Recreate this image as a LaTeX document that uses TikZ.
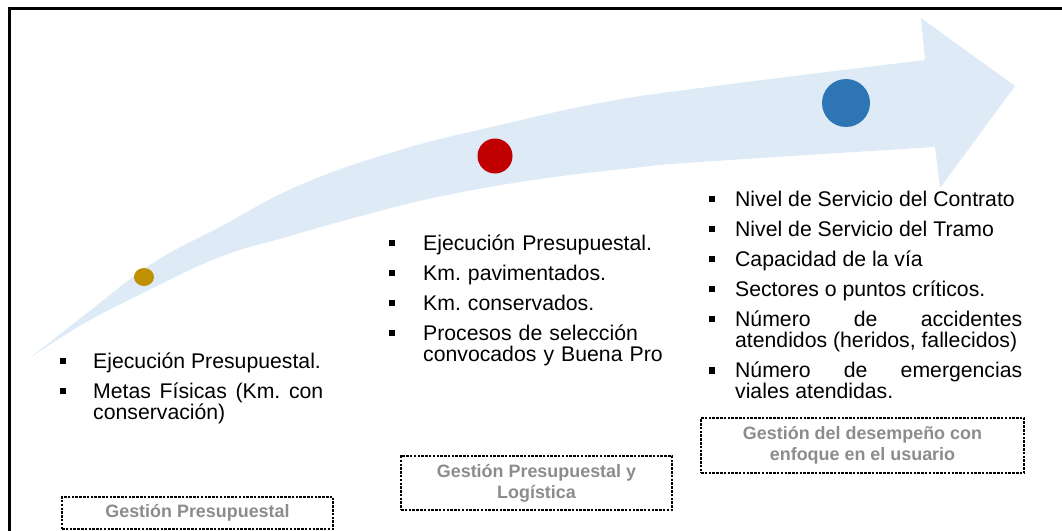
\documentclass[tikz,border=0pt]{standalone}
\usepackage{fontspec}
\setmainfont{Liberation Sans}
\usepackage{enumitem}
\definecolor{flecha}{HTML}{DEEAF6}
\definecolor{rojo}{HTML}{C00000}
\definecolor{azul}{HTML}{2E75B6}
\definecolor{oro}{HTML}{BF9000}
\definecolor{gris}{RGB}{140,140,140}
\tikzset{font=\fontsize{15.1}{14.9}\selectfont}
\tikzset{lista/.style={anchor=north west,inner sep=0pt,align=justify}}
\tikzset{etiqueta/.style={draw,line width=0.8pt,dash pattern=on 1.8pt off 0.9pt,
    text=gris,font=\bfseries\fontsize{12.75}{14.9}\selectfont,align=center,inner sep=0pt}}
\setlist[itemize]{label=\rule[2.9pt]{4.4pt}{4.4pt},labelwidth=4.4pt,
  topsep=0pt,partopsep=0pt,parsep=0pt,itemsep=6.5pt}
\hyphenpenalty=10000
\tolerance=9999
\lineskiplimit=-10pt
\frenchspacing

\begin{document}
\begin{tikzpicture}[x=0.25mm,y=-0.25mm]
  \useasboundingbox (0,0) rectangle (1062,531);
  \clip (0,0) rectangle (1062,531);
  % marco
  \draw[line width=0.75mm] (9,560) -- (9,9) -- (1090,9);
  % flecha curva
  \fill[flecha] plot[smooth,tension=0.7] coordinates {(30,358) (87,313) (153,263)
      (220,227) (300,185) (400,150) (500,125) (600,103) (700,88) (925,60)}
    -- (921,18) -- (1015,86) -- (940,188) -- (935,147)
    -- plot[smooth,tension=0.7] coordinates {(935,147) (700,162) (633,168) (533,180)
      (433,198) (350,219) (290,236) (220,257) (145,292) (83,324) (30,358)} -- cycle;
  \fill[oro] (144,277) ellipse [x radius=10,y radius=9];
  \fill[rojo] (495,156) circle [radius=17.5];
  \fill[azul] (846,103) circle [radius=24];

  \node[lista,text width=65.75mm] (izq) at (60,347) {%
    \begin{itemize}[leftmargin=23.4pt,labelsep=19pt]
      \item Ejecución Presupuestal.
      \item Metas Físicas (Km. con conservación)
    \end{itemize}};
  \node[lista,text width=70mm,align=left] (centro) at (389,229) {%
    \begin{itemize}[leftmargin=24.1pt,labelsep=19.7pt]
      \item Ejecución Presupuestal.
      \item Km. pavimentados.
      \item Km. conservados.
      \item Procesos de selección convocados y Buena Pro
    \end{itemize}};
  \node[lista,text width=78.25mm] (der) at (709,185) {%
    \begin{itemize}[leftmargin=18.4pt,labelsep=14pt]
      \item Nivel de Servicio del Contrato
      \item Nivel de Servicio del Tramo
      \item Capacidad de la vía
      \item Sectores o puntos críticos.
      \item Número de accidentes\linebreak atendidos (heridos, fallecidos)
      \item Número de emergencias\linebreak viales atendidas.
    \end{itemize}};

  \node[etiqueta,minimum width=67.75mm,minimum height=8mm] (g1) at (197.5,513)
    {Gestión Presupuestal};
  \node[etiqueta,minimum width=67.75mm,minimum height=13.5mm] (g2) at (536.5,483)
    {Gestión Presupuestal y\\Logística};
  \node[etiqueta,minimum width=80.75mm,minimum height=13.75mm] (g3) at (862.5,445.5)
    {Gestión del desempeño con\\enfoque en el usuario};
\end{tikzpicture}
\end{document}
